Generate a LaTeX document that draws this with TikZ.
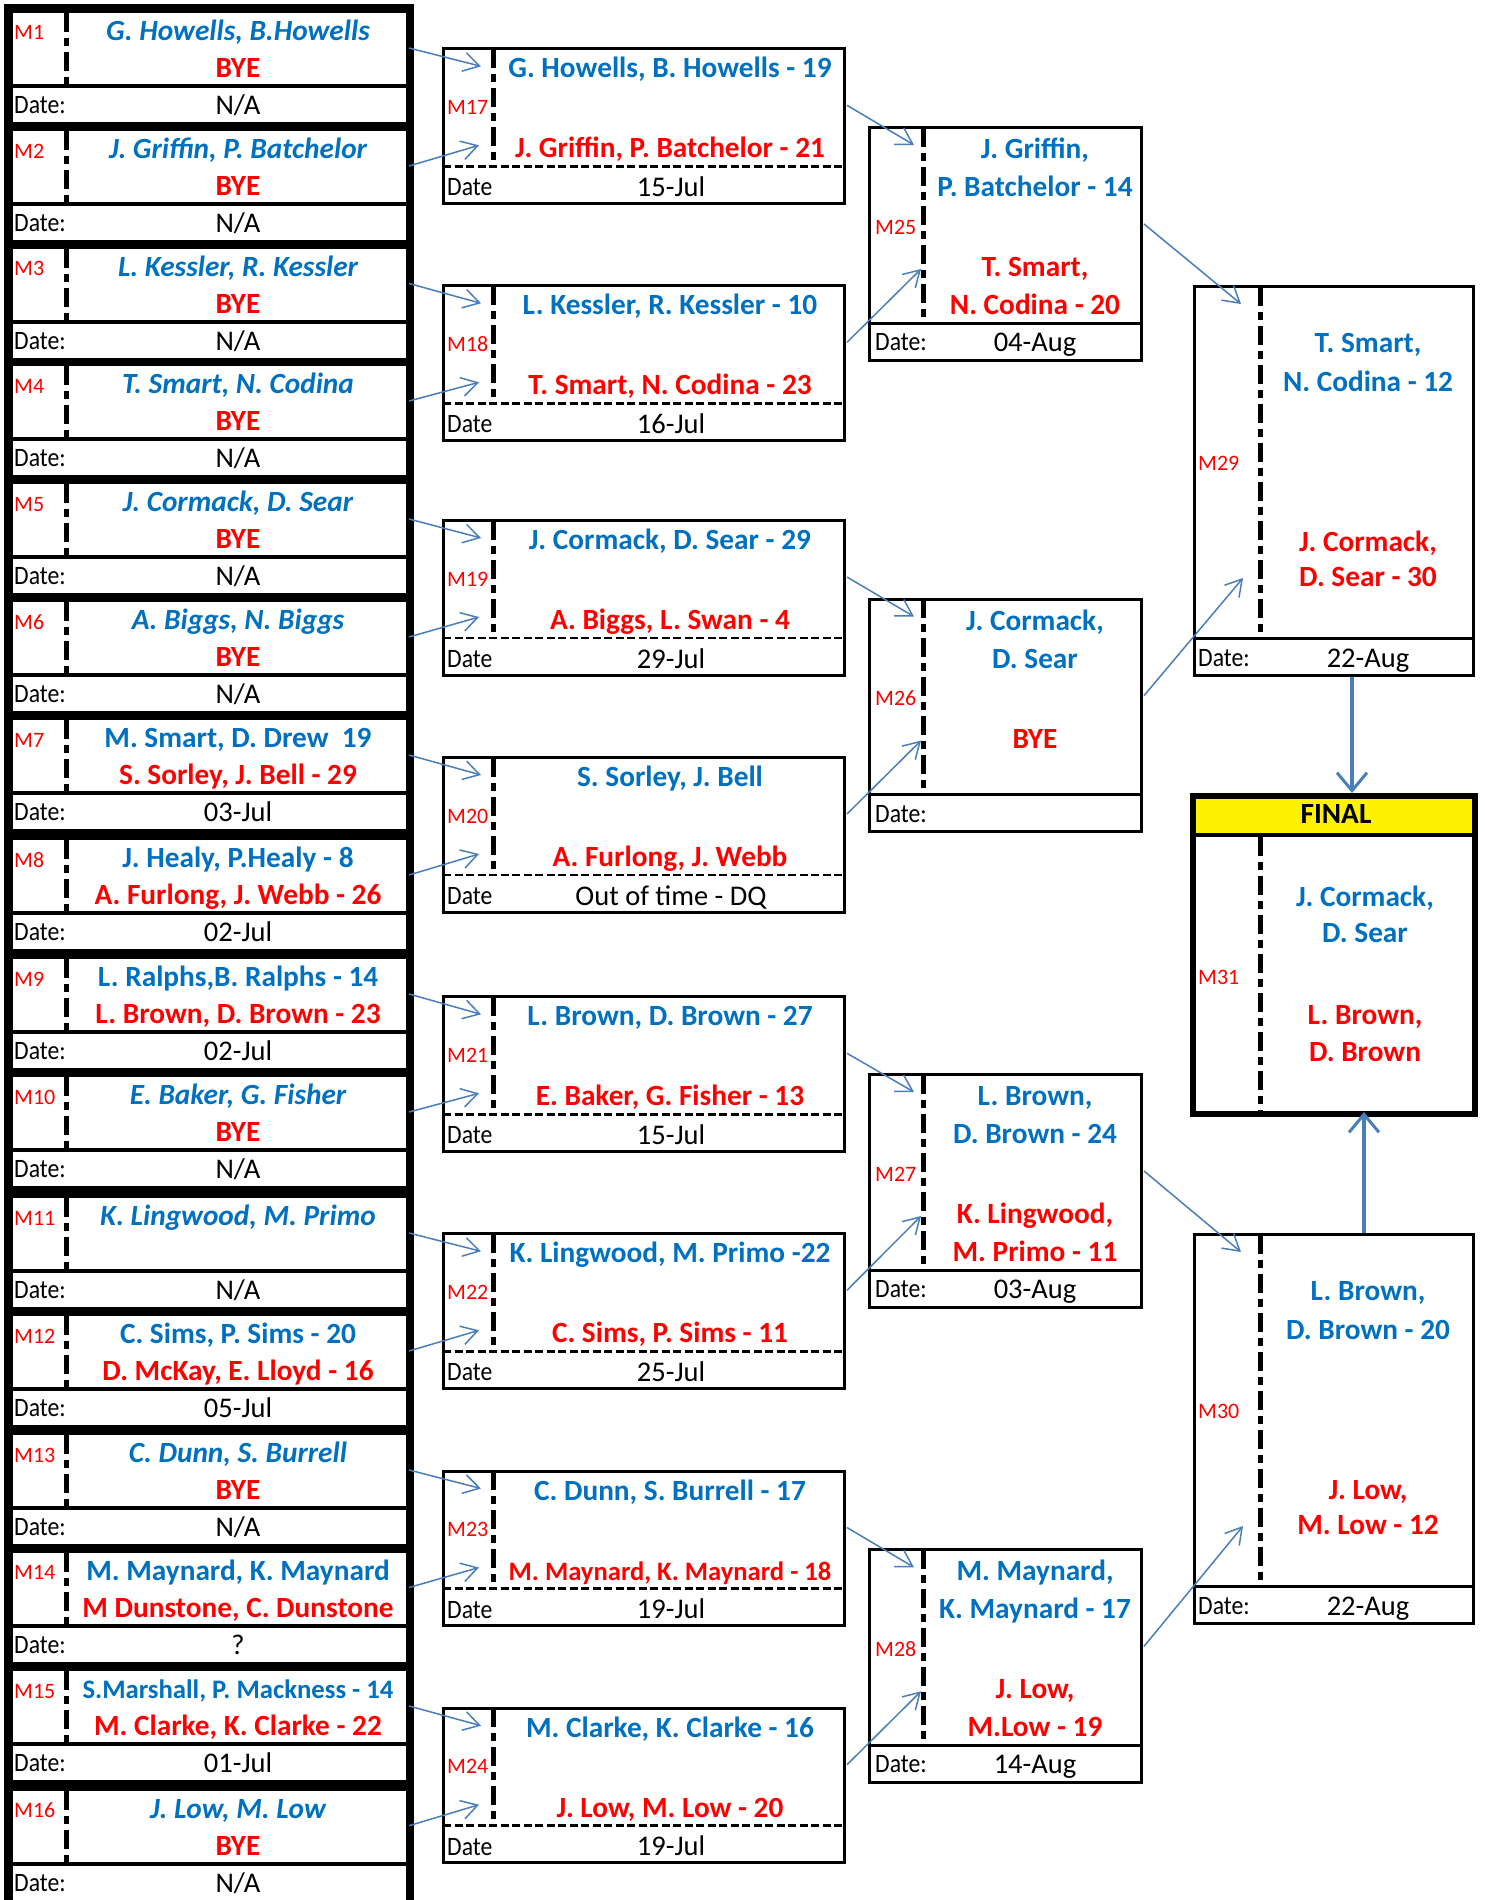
\documentclass[tikz,border=0pt]{standalone}
\usepackage{fontspec}
\usepackage{graphicx}
\setmainfont{Carlito}
\usetikzlibrary{arrows.meta}
\definecolor{nblue}{HTML}{0070C0}
\definecolor{nred}{HTML}{FF0000}
\definecolor{abl}{HTML}{4A7EBB}
\tikzset{
  nm/.style={font=\fontsize{29.3}{30}\selectfont\bfseries, inner sep=0pt, anchor=center, text height=24pt, text depth=5pt},
  bl/.style={nm, text=nblue},
  bls/.style={bl, font=\fontsize{26.7}{28}\selectfont\bfseries},
  bli/.style={bl, font=\fontsize{29.3}{30}\selectfont\bfseries\itshape},
  rd/.style={nm, text=nred},
  rds/.style={rd, font=\fontsize{26.6}{28}\selectfont\bfseries},
  fin/.style={nm, text=black},
  mlab/.style={font=\fontsize{22}{24}\selectfont, text=nred, inner sep=0pt, anchor=west, text height=18pt, text depth=4pt},
  dlab/.style={font=\fontsize{23.7}{25}\selectfont, inner sep=0pt, anchor=west, text height=21pt, text depth=4pt},
  dval/.style={font=\fontsize{28.5}{30}\selectfont, inner sep=0pt, anchor=center, text height=23pt, text depth=5pt},
  sepline/.style={line width=5pt, dash pattern=on 19pt off 6pt on 8pt off 6pt},
  boxline/.style={line width=3pt},
  hdash/.style={line width=2.5pt, dash pattern=on 8pt off 3.5pt},
  conn/.style={draw=abl, line width=1.5pt, -{Straight Barb[length=16pt,width=19pt,line width=1.5pt]}},
  bigconn/.style={draw=abl, line width=4pt, -{Straight Barb[length=18pt,width=30pt,line width=3pt]}},
}
\newcommand{\DateTxt}[1]{\scalebox{1}[1.12]{#1}}
% left column cell: #1 index, #2 top, #3 row1 style, #4 row1, #5 row2, #6 date value
\newcommand{\LeftCell}[6]{%
  \pgfmathsetmacro{\tp}{#2}
  \fill[white] (13,\tp) rectangle (406,\tp+71);
  \fill[white] (13,\tp+75) rectangle (406,\tp+109);
  \draw[sepline] (66,\tp) -- (66,\tp+71);
  \node[mlab] (lm#1) at (14,\tp+20) {M#1};
  \node[#3] (la#1) at (238,\tp+18) {#4};
  \node[rd] (lb#1) at (238,\tp+55) {#5};
  \node[dlab] (ld#1) at (14,\tp+92) {\DateTxt{Date:}};
  \node[dval] (lv#1) at (238,\tp+92.5) {#6};
  \coordinate (lo#1) at (409,\tp+35);
}
% second column box: #1 k, #2 top, #3 blue, #4 red, #5 date, #6 red style
\newcommand{\SecBox}[6]{%
  \pgfmathsetmacro{\tp}{#2}
  \pgfmathtruncatemacro{\mn}{16+#1}
  \draw[boxline] (443,\tp+1.5) rectangle (844.5,\tp+156);
  \draw[hdash] (443,\tp+119) -- (844.5,\tp+119);
  \draw[sepline] (493,\tp+1.5) -- (493,\tp+119);
  \node[mlab] (sm#1) at (447,\tp+60) {M\mn};
  \node[bl] (sa#1) at (670,\tp+21) {#3};
  \node[#6] (sb#1) at (670,\tp+101) {#4};
  \node[dlab] (sd#1) at (447,\tp+140) {\DateTxt{Date}};
  \node[dval] (sv#1) at (671,\tp+140) {#5};
  \coordinate (si#1) at (481,\tp+19);
  \coordinate (sj#1) at (479,\tp+98);
  \coordinate (so#1) at (847,\tp+58);
}
% third column box: #1 j, #2 top, #3..#6 lines, #7 date
\newcommand{\ThirdBox}[7]{%
  \pgfmathsetmacro{\tp}{#2}
  \pgfmathtruncatemacro{\mn}{24+#1}
  \draw[boxline] (869.5,\tp+1.5) rectangle (1141.5,\tp+234);
  \draw[boxline] (869.5,\tp+197) -- (1141.5,\tp+197);
  \draw[sepline] (923,\tp+1.5) -- (923,\tp+197);
  \node[mlab] (tm#1) at (875,\tp+101) {M\mn};
  \node[bl] (ta#1) at (1035,\tp+23) {#3};
  \node[bl] (tb#1) at (1035,\tp+61) {#4};
  \node[rd] (tc#1) at (1035,\tp+141) {#5};
  \node[rd] (te#1) at (1035,\tp+179) {#6};
  \node[dlab] (td#1) at (875,\tp+216) {\DateTxt{Date:}};
  \node[dval] (tv#1) at (1035,\tp+216) {#7};
  \coordinate (ti#1) at (914,\tp+19);
  \coordinate (tj#1) at (921,\tp+143);
  \coordinate (to#1) at (1144,\tp+98);
}
% fourth column box: #1 index, #2 top, #3..#6 lines, #7 date
\newcommand{\FourthBox}[7]{%
  \pgfmathsetmacro{\tp}{#2}
  \draw[boxline] (1194.5,\tp+1.5) rectangle (1473.5,\tp+390.5);
  \draw[boxline] (1194.5,\tp+353.5) -- (1473.5,\tp+353.5);
  \draw[sepline] (1260,\tp+1.5) -- (1260,\tp+352);
  \node[mlab] (qm#1) at (1198,\tp+178) {M#1};
  \node[bl] (qa#1) at (1368,\tp+58) {#3};
  \node[bl] (qb#1) at (1368,\tp+97) {#4};
  \node[rd] (qc#1) at (1368,\tp+257) {#5};
  \node[rd] (qe#1) at (1368,\tp+292) {#6};
  \node[dlab] (qd#1) at (1198,\tp+373) {\DateTxt{Date:}};
  \node[dval] (qv#1) at (1368,\tp+373) {#7};
  \coordinate (qi#1) at (1241,\tp+19);
  \coordinate (qj#1) at (1243,\tp+293);
}
\begin{document}
\begin{tikzpicture}[x=1pt,y=-1pt]
\useasboundingbox (0,0) rectangle (1485,1900);
\fill[white] (0,0) rectangle (1485,1900);
% left column frame
\fill[black] (4,4) rectangle (414,1900);
\LeftCell{1}{13}{bli}{G. Howells, B.Howells}{BYE}{N/A}
\LeftCell{2}{131}{bli}{J. Griffin, P. Batchelor}{BYE}{N/A}
\LeftCell{3}{248.5}{bli}{L. Kessler, R. Kessler}{BYE}{N/A}
\LeftCell{4}{366}{bli}{T. Smart, N. Codina}{BYE}{N/A}
\LeftCell{5}{484}{bli}{J. Cormack, D. Sear}{BYE}{N/A}
\LeftCell{6}{602}{bli}{A. Biggs, N. Biggs}{BYE}{N/A}
\LeftCell{7}{720}{bl}{M. Smart, D. Drew\ \ 19}{S. Sorley, J. Bell - 29}{03-Jul}
\LeftCell{8}{840}{bl}{J. Healy, P.Healy - 8}{A. Furlong, J. Webb - 26}{02-Jul}
\LeftCell{9}{959}{bl}{L. Ralphs,B. Ralphs - 14}{L. Brown, D. Brown - 23}{02-Jul}
\LeftCell{10}{1077}{bli}{E. Baker, G. Fisher}{BYE}{N/A}
\LeftCell{11}{1198}{bli}{K. Lingwood, M. Primo}{}{N/A}
\LeftCell{12}{1316}{bl}{C. Sims, P. Sims - 20}{D. McKay, E. Lloyd - 16}{05-Jul}
\LeftCell{13}{1435}{bli}{C. Dunn, S. Burrell}{BYE}{N/A}
\LeftCell{14}{1552.5}{bl}{M. Maynard, K. Maynard}{M Dunstone, C. Dunstone}{?}
\LeftCell{15}{1671}{bls}{S.Marshall, P. Mackness - 14}{M. Clarke, K. Clarke - 22}{01-Jul}
\LeftCell{16}{1790.7}{bli}{J. Low, M. Low}{BYE}{N/A}
% second column
\SecBox{1}{47.3}{G. Howells, B. Howells - 19}{J. Griffin, P. Batchelor - 21}{15-Jul}{rd}
\SecBox{2}{284.3}{L. Kessler, R. Kessler - 10}{T. Smart, N. Codina - 23}{16-Jul}{rd}
\SecBox{3}{519}{J. Cormack, D. Sear - 29}{A. Biggs, L. Swan - 4}{29-Jul}{rd}
\SecBox{4}{756}{S. Sorley, J. Bell}{A. Furlong, J. Webb}{Out of time - DQ}{rd}
\SecBox{5}{995.3}{L. Brown, D. Brown - 27}{E. Baker, G. Fisher - 13}{15-Jul}{rd}
\SecBox{6}{1232.3}{K. Lingwood, M. Primo -22}{C. Sims, P. Sims - 11}{25-Jul}{rd}
\SecBox{7}{1469.5}{C. Dunn, S. Burrell - 17}{M. Maynard, K. Maynard - 18}{19-Jul}{rds}
\SecBox{8}{1706.7}{M. Clarke, K. Clarke - 16}{J. Low, M. Low - 20}{19-Jul}{rd}
% third column
\ThirdBox{1}{126}{J. Griffin,}{P. Batchelor - 14}{T. Smart,}{N. Codina - 20}{04-Aug}
\ThirdBox{2}{597.6}{J. Cormack,}{D. Sear}{BYE}{}{}
\ThirdBox{3}{1073}{L. Brown,}{D. Brown - 24}{K. Lingwood,}{M. Primo - 11}{03-Aug}
\ThirdBox{4}{1548.3}{M. Maynard,}{K. Maynard - 17}{J. Low,}{M.Low - 19}{14-Aug}
% fourth column
\FourthBox{29}{285}{T. Smart,}{N. Codina - 12}{J. Cormack,}{D. Sear - 30}{22-Aug}
\FourthBox{30}{1233}{L. Brown,}{D. Brown - 20}{J. Low,}{M. Low - 12}{22-Aug}
% final
\fill[yellow] (1193,799) rectangle (1475,835);
\draw[line width=6pt] (1193,796) rectangle (1475,1114);
\draw[line width=4pt] (1193,835) -- (1475,835);
\draw[sepline] (1260,837) -- (1260,1111);
\node[fin] (final) at (1336,814) {FINAL};
\node[mlab] (fm) at (1198,977) {M31};
\node[bl] (fa) at (1365,897) {J. Cormack,};
\node[bl] (fb) at (1365,933) {D. Sear};
\node[rd] (fc) at (1365,1015) {L. Brown,};
\node[rd] (fe) at (1365,1052) {D. Brown};
\coordinate (fintop) at (1352,793);
\coordinate (finbot) at (1364,1112);
\coordinate (q29out) at (1352,677);
\coordinate (q30out) at (1364,1233);
% connectors
\foreach \k in {1,...,8} {
  \pgfmathtruncatemacro{\ua}{2*\k-1}
  \pgfmathtruncatemacro{\ub}{2*\k}
  \draw[conn] (lo\ua) -- (si\k);
  \draw[conn] (lo\ub) -- (sj\k);
}
\foreach \j in {1,...,4} {
  \pgfmathtruncatemacro{\ua}{2*\j-1}
  \pgfmathtruncatemacro{\ub}{2*\j}
  \draw[conn] (so\ua) -- (ti\j);
  \draw[conn] (so\ub) -- (tj\j);
}
\draw[conn] (to1) -- (qi29);
\draw[conn] (to2) -- (qj29);
\draw[conn] (to3) -- (qi30);
\draw[conn] (to4) -- (qj30);
\draw[bigconn] (q29out) -- (fintop);
\draw[bigconn] (q30out) -- (finbot);
\end{tikzpicture}
\end{document}
